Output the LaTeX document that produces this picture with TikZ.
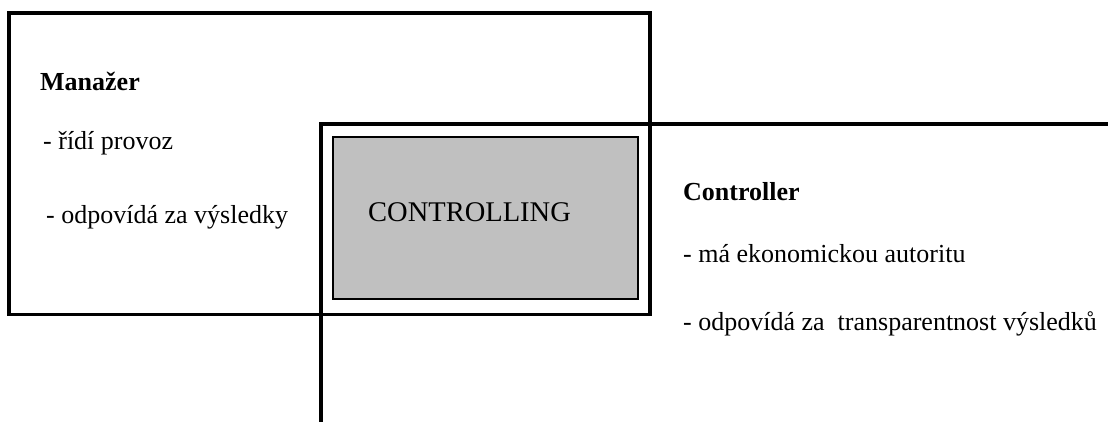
\documentclass[tikz,border=0pt]{standalone}
\usepackage{fontspec}
\setmainfont{Liberation Serif}
\definecolor{fillgray}{HTML}{C0C0C0}
\tikzset{
  frame/.style={draw=black, line width=3.5pt},
  inner/.style={draw=black, line width=1.2pt, fill=fillgray},
  title/.style={anchor=base west, inner sep=0pt, font=\fontsize{26}{30}\selectfont\bfseries},
  item/.style={anchor=base west, inner sep=0pt, font=\fontsize{26}{30}\selectfont},
  core/.style={anchor=base west, inner sep=0pt, font=\fontsize{28.5}{32}\selectfont}
}
\begin{document}
\begin{tikzpicture}[x=1pt, y=-1pt]
  \useasboundingbox (0,0) rectangle (1108,421);
  \fill[white] (0,0) rectangle (1108,421);

  % manager area
  \coordinate (mgrNW) at (9,13);
  \coordinate (mgrSE) at (650,314.5);
  \draw[frame] (mgrNW) rectangle (mgrSE);

  % controller area, open to the right and to the bottom
  \coordinate (ctlE) at (1112,124);
  \coordinate (ctlNW) at (321,124);
  \coordinate (ctlS) at (321,425);
  \draw[frame] (ctlE) -- (ctlNW) -- (ctlS);

  % shared controlling field
  \coordinate (coreNW) at (333,137);
  \coordinate (coreSE) at (638,299);
  \draw[inner] (coreNW) rectangle (coreSE);
  \node[core] (controlling) at (368,221) {CONTROLLING};

  % manager texts
  \node[title] (manazer) at (40,90) {Manažer};
  \node[item] (ridi) at (43,149) {- řídí provoz};
  \node[item] (odpM) at (46,223) {- odpovídá za výsledky};

  % controller texts
  \node[title] (controller) at (683,200) {Controller};
  \node[item] (autorita) at (683,262) {- má ekonomickou autoritu};
  \node[item] (odpC) at (683,330) {- odpovídá za\ \ transparentnost výsledků};
\end{tikzpicture}
\end{document}
